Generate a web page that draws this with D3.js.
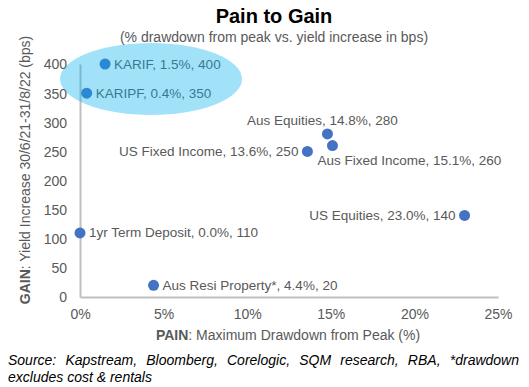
<!DOCTYPE html>
<html lang="en">
<head>
<meta charset="UTF-8">
<title>Pain to Gain</title>
<style>
  body { margin: 0; background: #fff; }
  svg { font-family: "Liberation Sans", Arial, sans-serif; display: block; }
</style>
</head>
<body>
<svg id="svg" width="529" height="387"></svg>
<script src="https://d3js.org/d3.v7.min.js"></script>
<script>
// data
const names = ["KARIF", "KARIPF", "Aus Equities", "US Fixed Income", "Aus Fixed Income", "US Equities", "1yr Term Deposit", "Aus Resi Property*"]
const pain = [1.5, 0.4, 14.8, 13.6, 15.1, 23.0, 0.0, 4.4]
const gain = [400, 350, 280, 250, 260, 140, 110, 20]
// where each data label sits relative to its dot
const labelPos = ["right", "right", "above", "left", "belowRight", "left", "right", "right"]
const xTicks = [0, 5, 10, 15, 20, 25]
const yTicks = [0, 50, 100, 150, 200, 250, 300, 350, 400]

const svg = d3.select("#svg")
const grey = "#595959"

const x = d3.scaleLinear().domain([0, 25]).range([80, 498])
const y = d3.scaleLinear().domain([0, 400]).range([297, 64])

// titles
svg.append("text").attr("x", 274).attr("y", 23).attr("text-anchor", "middle")
  .attr("font-size", 20).attr("font-weight", "bold").attr("fill", "#000").text("Pain to Gain")
svg.append("text").attr("x", 274).attr("y", 42).attr("text-anchor", "middle")
  .attr("font-size", 14).attr("fill", grey).text("(% drawdown from peak vs. yield increase in bps)")

// axes
const xAxis = d3.axisBottom(x).tickValues(xTicks).tickSize(0).tickPadding(12).tickFormat(d => d + "%")
const yAxis = d3.axisLeft(y).tickValues(yTicks).tickSize(0).tickPadding(13)

const gx = svg.append("g").attr("transform", "translate(0,297)").call(xAxis)
const gy = svg.append("g").attr("transform", "translate(80,0)").call(yAxis)
;[gx, gy].forEach(g => {
  g.select(".domain").attr("stroke", "#bfbfbf").attr("stroke-width", 2)
  g.selectAll("text").attr("font-size", 14).attr("fill", grey).attr("font-family", null)
})
gy.selectAll("text").attr("dy", "0.35em")

// axis titles
const xt = svg.append("text").attr("x", 288).attr("y", 340).attr("text-anchor", "middle")
  .attr("font-size", 14).attr("fill", grey)
xt.append("tspan").attr("font-weight", "bold").text("PAIN")
xt.append("tspan").text(": Maximum Drawdown from Peak (%)")

const yt = svg.append("text").attr("transform", "translate(30,170) rotate(-90)").attr("text-anchor", "middle")
  .attr("font-size", 14).attr("fill", grey)
yt.append("tspan").attr("font-weight", "bold").text("GAIN")
yt.append("tspan").text(": Yield Increase 30/6/21-31/8/22 (bps)")

// points + labels
const pts = names.map((n, i) => ({ name: n, pain: pain[i], gain: gain[i], pos: labelPos[i] }))

svg.append("g").selectAll("circle").data(pts).join("circle")
  .attr("cx", d => x(d.pain)).attr("cy", d => y(d.gain)).attr("r", 5.5)
  .attr("fill", "#4472c4")

const lbl = d => d.name + ", " + d.pain.toFixed(1) + "%, " + d.gain
svg.append("g").selectAll("text").data(pts).join("text")
  .attr("font-size", 13.5).attr("fill", grey)
  .attr("x", d => {
    const cx = x(d.pain)
    if (d.pos === "right") return cx + 9
    if (d.pos === "left") return cx - 9
    if (d.pos === "above") return cx - 5
    return cx - 15
  })
  .attr("y", d => {
    const cy = y(d.gain)
    if (d.pos === "above") return cy - 9
    if (d.pos === "belowRight") return cy + 19
    return cy + 4.5
  })
  .attr("text-anchor", d => d.pos === "left" ? "end" : d.pos === "above" ? "middle" : "start")
  .text(lbl)

// highlight ellipse over the Kapstream funds
svg.append("ellipse").attr("cx", 151).attr("cy", 79).attr("rx", 91).attr("ry", 36)
  .attr("fill", "#00b0f0").attr("opacity", 0.37)

// source note, first line justified
function justifyLine(str, x0, x1, yy) {
  const words = str.split(" ")
  const g = svg.append("g").attr("font-size", 14).attr("font-style", "italic").attr("fill", "#000")
  const t = words.map(w => g.append("text").attr("y", yy).text(w))
  const widths = t.map(s => s.node().getComputedTextLength())
  const gap = (x1 - x0 - d3.sum(widths)) / (words.length - 1)
  let cur = x0
  t.forEach((s, i) => { s.attr("x", cur); cur += widths[i] + gap })
}
justifyLine("Source: Kapstream, Bloomberg, Corelogic, SQM research, RBA, *drawdown", 8, 519, 365)
svg.append("text").attr("x", 8).attr("y", 382).attr("font-size", 14).attr("font-style", "italic")
  .attr("fill", "#000").text("excludes cost & rentals")
</script>
</body>
</html>
